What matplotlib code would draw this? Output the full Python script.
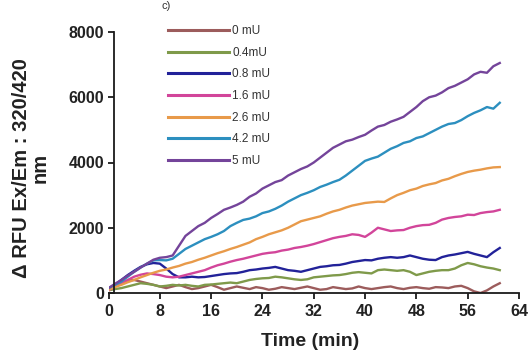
import matplotlib
matplotlib.use("Agg")
import matplotlib.pyplot as plt
import numpy as np

plt.rcParams['font.family'] = ['Liberation Sans', 'DejaVu Sans']

time_min = list(range(0, 62))

labels = ["0 mU", "0.4mU", "0.8 mU", "1.6 mU", "2.6 mU", "4.2 mU", "5 mU"]
colors = ["#9c5c5c", "#7f9a4a", "#222299", "#d2459a", "#e89a4a", "#2c8fbf", "#74449a"]

s0 = [100, 200, 300, 380, 400, 350, 300, 250, 200, 150, 200, 250, 180, 120, 150, 200,
      250, 180, 100, 150, 200, 160, 120, 180, 150, 100, 130, 180, 150, 120, 160, 200,
      150, 100, 120, 180, 150, 120, 140, 200, 150, 120, 150, 180, 200, 150, 120, 160,
      180, 150, 130, 180, 170, 150, 200, 220, 150, 50, 0, 80, 200, 300]
s04 = [80, 120, 150, 200, 250, 300, 280, 250, 200, 220, 250, 230, 250, 220, 200, 250,
       260, 280, 300, 320, 300, 350, 400, 430, 450, 460, 500, 480, 450, 420, 400, 420,
       480, 500, 520, 540, 550, 580, 620, 640, 620, 600, 700, 720, 700, 680, 700, 650,
       550, 600, 650, 680, 700, 700, 750, 850, 920, 880, 820, 780, 750, 700]
s08 = [100, 250, 400, 550, 680, 800, 880, 920, 900, 750, 580, 480, 480, 500, 480, 490,
       520, 550, 580, 600, 610, 650, 700, 720, 750, 770, 800, 750, 700, 680, 650, 700,
       750, 800, 820, 850, 860, 900, 950, 980, 1010, 1000, 1050, 1080, 1100, 1080, 1100, 1150,
       1100, 1050, 1020, 1010, 1100, 1150, 1180, 1220, 1260, 1200, 1150, 1100, 1250, 1380]
s16 = [80, 200, 300, 400, 500, 560, 600, 580, 550, 500, 480, 500, 550, 600, 650, 700,
       780, 850, 900, 960, 1010, 1050, 1100, 1150, 1200, 1230, 1250, 1300, 1330, 1380, 1410, 1450,
       1500, 1560, 1620, 1680, 1720, 1750, 1800, 1780, 1720, 1850, 2000, 1950, 1900, 1920, 1930, 2000,
       2050, 2080, 2090, 2150, 2250, 2300, 2330, 2350, 2400, 2390, 2450, 2480, 2500, 2550]
s26 = [100, 180, 250, 330, 400, 480, 550, 620, 680, 720, 780, 830, 900, 950, 1020, 1080,
       1150, 1220, 1280, 1350, 1410, 1480, 1550, 1650, 1720, 1800, 1860, 1920, 2000, 2100, 2200, 2250,
       2300, 2350, 2430, 2500, 2550, 2620, 2680, 2720, 2760, 2780, 2800, 2790, 2900, 3000, 3070, 3150,
       3200, 3280, 3330, 3370, 3450, 3500, 3580, 3650, 3710, 3750, 3780, 3820, 3850, 3860]
s42 = [150, 250, 350, 500, 650, 780, 900, 1000, 1010, 1000, 1050, 1200, 1350, 1450, 1550, 1650,
       1720, 1800, 1900, 2050, 2150, 2240, 2280, 2350, 2450, 2500, 2580, 2680, 2800, 2900, 3000, 3070,
       3150, 3250, 3320, 3400, 3470, 3600, 3750, 3900, 4050, 4120, 4180, 4300, 4420, 4500, 4600, 4650,
       4750, 4800, 4900, 5000, 5100, 5180, 5210, 5300, 5420, 5520, 5600, 5700, 5650, 5830]
s5 = [150, 280, 400, 530, 650, 780, 900, 1020, 1080, 1100, 1150, 1450, 1750, 1900, 2050, 2150,
      2300, 2420, 2550, 2620, 2700, 2800, 2950, 3050, 3200, 3300, 3400, 3460, 3600, 3700, 3800, 3880,
      4000, 4150, 4300, 4450, 4550, 4650, 4700, 4780, 4850, 4980, 5100, 5150, 5250, 5320, 5400, 5550,
      5700, 5880, 6000, 6050, 6150, 6280, 6350, 6450, 6550, 6700, 6780, 6750, 6950, 7050]

series = [s0, s04, s08, s16, s26, s42, s5]

x_ticks = [0, 8, 16, 24, 32, 40, 48, 56, 64]
y_ticks = [0, 2000, 4000, 6000, 8000]

fig = plt.figure(figsize=(5.30, 3.62), dpi=100)
ax = fig.add_axes([108.5 / 530, 1 - 293 / 362, (519 - 108.5) / 530, (293 - 32) / 362])

for vals, lab, col in zip(series, labels, colors):
    ax.plot(time_min, vals, color=col, lw=1.7, label=lab)

ax.set_xlim(0, 64)
ax.set_ylim(0, 8000)
ax.set_xticks(x_ticks)
ax.set_yticks(y_ticks)
ax.spines['top'].set_visible(False)
ax.spines['right'].set_visible(False)
ax.spines['left'].set_position(('data', 0.85))
for sp in ['left', 'bottom']:
    ax.spines[sp].set_linewidth(1.3)
    ax.spines[sp].set_color('#1a1a1a')
ax.tick_params(axis='both', direction='out', length=4, width=1.3, color='#1a1a1a',
               labelsize=11.5, labelcolor='#222222')
for t in ax.get_xticklabels() + ax.get_yticklabels():
    t.set_fontweight('bold')
ax.tick_params(axis='y', pad=3)
ax.tick_params(axis='x', pad=4)

fig.text(31 / 530, 1 - 168 / 362, "Δ RFU Ex/Em : 320/420\nnm", rotation=90,
         ha='center', va='center', multialignment='center', fontsize=14.5,
         fontweight='bold', color='#222222', linespacing=1.0)
fig.text(310 / 530, 1 - 342 / 362, "Time (min)", ha='center', va='center',
         fontsize=14, fontweight='bold', color='#222222')
fig.text(166 / 530, 1 - 1 / 362, "c)", ha='center', va='top', fontsize=8,
         color='#333333')

leg = ax.legend(loc='upper left', bbox_to_anchor=(168 / 530, 1 - 25 / 362),
                bbox_transform=fig.transFigure, frameon=False, fontsize=8.5,
                handlelength=5.2, handletextpad=0.25, labelspacing=0.82,
                borderpad=0, borderaxespad=0)
for t in leg.get_texts():
    t.set_color('#333333')
for h in leg.get_lines():
    h.set_linewidth(2.2)

fig.savefig("out.png", dpi=100)
